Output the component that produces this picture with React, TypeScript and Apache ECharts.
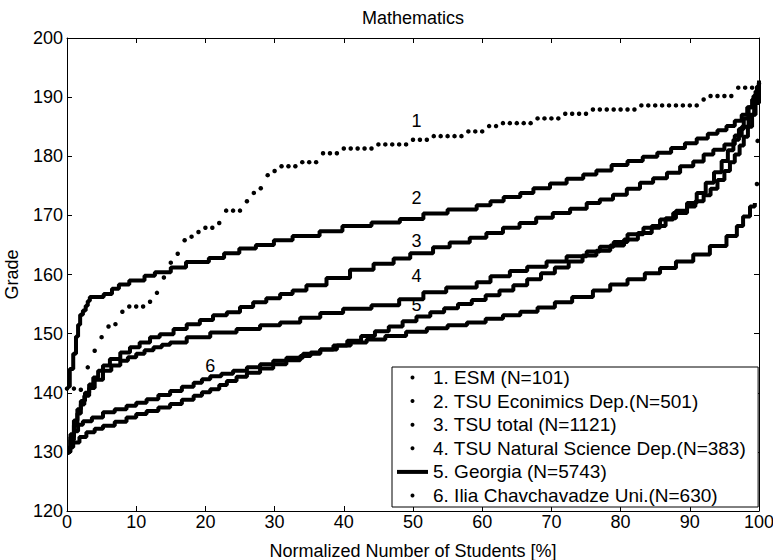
import React, { useEffect, useRef } from "react";
import * as echarts from "echarts";

const FONT = '"Liberation Sans", Arial, Helvetica, sans-serif';

const seriesNames = [
  "1. ESM (N=101)",
  "2. TSU Econimics Dep.(N=501)",
  "3. TSU total (N=1121)",
  "4. TSU Natural Science Dep.(N=383)",
  "5. Georgia (N=5743)",
  "6. Ilia Chavchavadze Uni.(N=630)",
];

const xTicks = [0, 100, 10];
const yTicks = [120, 200, 10];

// Series 1: one grade per student (101 students, evenly spread 0..100 %)
const esmGrades = [
  140.7, 140.7, 140.5, 144.3, 147.1, 149.4, 151.2, 151.6, 153.7, 154.6,
  154.6, 154.6, 155.4, 156.9, 159.5, 162.0, 163.5, 165.8, 166.4, 167.2,
  167.9, 167.9, 168.7, 170.8, 170.8, 170.8, 172.4, 173.8, 174.6, 176.8,
  177.5, 178.3, 178.3, 178.3, 179.0, 179.0, 179.0, 180.5, 180.5, 180.5,
  181.3, 181.3, 181.3, 181.3, 181.3, 182.0, 182.0, 182.0, 182.0, 182.0,
  182.8, 182.8, 182.8, 183.4, 183.4, 183.4, 183.4, 183.4, 184.2, 184.2,
  184.2, 185.1, 185.1, 185.6, 185.6, 185.6, 185.6, 185.6, 186.4, 186.4,
  186.4, 186.4, 187.2, 187.2, 187.2, 187.2, 187.9, 187.9, 187.9, 187.9,
  187.9, 187.9, 187.9, 188.6, 188.6, 188.6, 188.6, 188.6, 188.6, 188.6,
  188.6, 188.6, 189.6, 190.2, 190.2, 190.2, 190.2, 191.6, 191.6, 191.6,
  192.3,
];

// Dense series: [percent where a grade level starts, grade]
const econ = [
  [0, 141.0], [0.4, 144.0], [0.9, 146.6], [1.3, 149.5], [1.6, 151.5], [1.9, 153.2],
  [2.3, 153.9], [2.7, 154.7], [3.0, 155.5], [3.3, 156.2], [5.3, 156.7], [6.5, 157.6],
  [7.5, 158.3], [9.0, 159.0], [11.2, 159.8], [12.7, 160.4], [15.0, 161.2], [17.2, 162.1],
  [20.5, 162.8], [22.7, 163.6], [24.9, 164.4], [27.3, 165.0], [29.9, 165.8], [32.6, 166.5],
  [36.5, 167.3], [39.8, 168.2], [44.0, 168.8], [48.1, 169.4], [51.5, 170.3], [55.0, 171.0],
  [59.2, 171.7], [61.2, 172.4], [63.1, 173.1], [65.5, 173.8], [67.4, 174.6], [69.8, 175.4],
  [72.2, 176.2], [74.6, 176.9], [76.5, 177.6], [78.7, 178.5], [81.0, 179.2], [83.2, 179.9],
  [85.3, 180.6], [87.3, 181.4], [89.3, 182.2], [91.0, 183.0], [92.6, 183.8], [94.0, 184.4],
  [95.3, 185.1], [96.5, 186.0], [97.5, 187.0], [98.3, 188.3], [99.0, 189.6], [99.5, 191.0],
  [100, 192.3],
];

const tsuTotal = [
  [0, 130.5], [0.5, 133.0], [1.0, 135.3], [1.5, 137.2], [2.0, 138.6], [2.6, 140.0],
  [3.2, 141.4], [3.8, 142.6], [4.5, 143.7], [5.2, 144.6], [6.2, 145.7], [7.7, 146.8],
  [9.1, 147.7], [10.5, 148.5], [12.0, 149.4], [13.4, 149.9], [15.4, 150.8], [17.3, 151.6],
  [19.2, 152.3], [21.1, 153.1], [23.1, 153.6], [25.0, 154.5], [26.9, 155.3], [28.8, 156.0],
  [30.8, 156.7], [32.6, 157.3], [34.6, 158.2], [37.5, 159.4], [40.9, 160.8], [44.3, 161.8],
  [47.2, 162.7], [49.6, 163.6], [52.9, 164.6], [55.3, 165.4], [58.2, 166.2], [60.6, 167.0],
  [63.0, 167.9], [65.4, 168.7], [67.8, 169.6], [70.2, 170.4], [72.7, 171.1], [75.1, 172.1],
  [77.0, 172.7], [78.9, 173.5], [80.9, 174.5], [82.8, 175.5], [84.7, 176.3], [86.7, 177.2],
  [88.6, 178.3], [90.5, 179.1], [92.0, 180.3], [93.4, 181.1], [95.0, 182.0], [96.5, 183.5],
  [97.5, 185.0], [98.5, 187.0], [99.3, 189.5], [100, 192.0],
];

const natSci = [
  [0, 130.0], [0.5, 132.5], [1.0, 134.5], [1.5, 136.5], [2.0, 138.0], [2.5, 139.5],
  [3.2, 140.8], [4.0, 142.2], [5.2, 143.7], [6.4, 144.6], [7.7, 145.4], [8.8, 146.0],
  [10.0, 146.6], [11.2, 147.2], [12.5, 147.7], [13.7, 148.1], [14.9, 148.5], [17.3, 149.4],
  [20.7, 150.2], [24.5, 150.8], [27.9, 151.4], [30.8, 151.9], [33.7, 152.7], [36.6, 153.5],
  [39.9, 154.2], [44.0, 154.8], [48.0, 155.8], [51.5, 157.0], [54.8, 157.8], [59.2, 158.7],
  [61.2, 159.7], [64.0, 160.6], [66.5, 161.3], [69.3, 162.2], [72.2, 163.1], [75.1, 163.9],
  [77.0, 164.7], [79.0, 165.5], [81.0, 166.8], [83.3, 167.9], [85.7, 169.3], [87.6, 170.4],
  [89.6, 171.5], [90.8, 172.4], [92.0, 173.4], [93.0, 174.5], [94.0, 176.0], [95.0, 177.5],
  [95.8, 179.0], [96.5, 180.3], [97.2, 181.8], [97.8, 183.3], [98.4, 185.0], [99.0, 187.0],
  [99.5, 189.0], [100, 191.0],
];

const georgia = [
  [0, 129.8], [0.3, 130.8], [0.9, 131.6], [1.8, 132.5], [2.8, 133.3], [4.0, 133.9],
  [5.2, 134.4], [6.9, 135.1], [8.6, 135.8], [10.0, 136.4], [11.5, 136.9], [13.2, 137.5],
  [14.9, 138.1], [16.6, 138.8], [18.3, 139.5], [19.5, 140.1], [20.7, 140.6], [22.0, 141.3],
  [23.1, 142.0], [24.5, 142.7], [26.0, 143.4], [27.9, 144.1], [29.8, 144.8], [31.7, 145.5],
  [33.7, 146.2], [35.2, 146.8], [36.6, 147.3], [38.5, 148.0], [40.5, 148.8], [42.5, 149.6],
  [44.5, 150.4], [46.5, 151.2], [48.5, 152.1], [50.5, 152.9], [52.5, 153.6], [54.5, 154.3],
  [56.5, 155.0], [58.5, 155.7], [60.5, 156.5], [62.5, 157.3], [64.5, 158.2], [66.5, 159.2],
  [68.5, 160.2], [70.5, 161.2], [72.5, 162.2], [74.5, 163.2], [76.5, 164.0], [78.5, 164.9],
  [80.5, 165.9], [82.5, 167.0], [84.5, 168.2], [86.5, 169.5], [88.0, 170.8], [89.6, 172.1],
  [91.0, 173.8], [92.3, 175.5], [93.5, 177.3], [94.6, 179.2], [95.5, 181.0], [96.3, 182.8],
  [97.1, 184.6], [97.8, 186.4], [98.5, 188.3], [99.2, 190.2], [99.7, 191.8], [100, 192.8],
];

const ilia = [
  [0, 130.5], [0.5, 132.0], [1.0, 133.5], [1.6, 134.6], [2.3, 135.2], [3.6, 135.8],
  [5.2, 136.7], [6.9, 137.2], [8.6, 137.8], [10.0, 138.3], [11.5, 138.9], [13.2, 139.6],
  [14.9, 140.3], [16.6, 141.0], [18.3, 141.7], [19.5, 142.3], [20.7, 142.8], [22.3, 143.2],
  [24.0, 143.7], [26.0, 144.3], [27.9, 144.8], [29.8, 145.4], [31.7, 145.9], [34.1, 146.6],
  [36.6, 147.3], [39.0, 148.0], [41.0, 148.5], [43.3, 149.0], [46.0, 149.6], [49.0, 150.3],
  [52.0, 150.9], [55.0, 151.4], [57.8, 151.9], [60.5, 152.5], [63.0, 153.1], [65.5, 153.7],
  [68.0, 154.4], [70.5, 155.3], [73.0, 156.2], [76.0, 157.3], [78.5, 158.3], [81.0, 159.2],
  [83.5, 160.2], [85.7, 161.1], [88.0, 162.2], [90.5, 163.4], [92.9, 164.8], [95.3, 166.5],
  [96.8, 168.2], [97.7, 169.8], [98.7, 171.5], [99.4, 172.1],
];

// stray points plotted at the right edge
const edgeDots = [
  [99.8, 182.6], [99.7, 175.3],
];

// curve number annotations [percent, grade, text]
const curveLabels = [
  [50.5, 185.9, "1"], [50.5, 172.9, "2"], [50.5, 165.6, "3"],
  [50.5, 159.7, "4"], [50.5, 154.8, "5"], [20.7, 144.5, "6"],
];

const legendIcons = ["circle", "circle", "circle", "circle", "rect", "circle"];

function buildOption() {
  const axisCommon = {
    type: "value",
    axisLine: { show: true, onZero: false, lineStyle: { color: "#000", width: 1 } },
    axisTick: { show: true, inside: true, length: 5, lineStyle: { color: "#000", width: 1 } },
    splitLine: { show: false },
  };
  const labelStyle = { color: "#000", fontSize: 18, fontFamily: FONT };
  const denseSets = [econ, tsuTotal, natSci, georgia, ilia];

  const series: any[] = [
    {
      name: seriesNames[0],
      type: "scatter",
      data: esmGrades.map((g, i) => [(i * 100) / (esmGrades.length - 1), g]),
      symbol: "circle",
      symbolSize: 4.5,
      itemStyle: { color: "#000", opacity: 1 },
      xAxisIndex: 0,
      yAxisIndex: 0,
    },
    ...denseSets.map((d, k) => ({
      name: seriesNames[k + 1],
      type: "line",
      step: "end",
      data: d,
      showSymbol: false,
      symbol: "circle",
      color: "#000",
      itemStyle: { color: "#000" },
      lineStyle: { color: "#000", width: 4 },
      xAxisIndex: 0,
      yAxisIndex: 0,
    })),
    {
      name: "edge",
      type: "scatter",
      data: edgeDots,
      symbolSize: 4.5,
      itemStyle: { color: "#000", opacity: 1 },
      xAxisIndex: 0,
      yAxisIndex: 0,
    },
    {
      name: "labels",
      type: "scatter",
      data: curveLabels,
      symbolSize: 2,
      itemStyle: { color: "rgba(255,255,255,0)" },
      silent: true,
      z: 10,
      label: {
        show: true,
        position: "inside",
        formatter: (p: any) => p.data[2],
        color: "#000",
        textBorderWidth: 0,
        opacity: 1,
        fontSize: 18,
        fontFamily: FONT,
      },
      xAxisIndex: 0,
      yAxisIndex: 0,
    },
  ];

  return {
    animation: false,
    backgroundColor: "#fff",
    textStyle: { fontFamily: FONT },
    title: {
      text: "Mathematics",
      left: 413,
      top: 9,
      textAlign: "center",
      padding: 0,
      textStyle: { ...labelStyle, fontWeight: "normal" },
    },
    grid: {
      left: 67,
      right: 14,
      top: 38,
      bottom: 49,
      containLabel: false,
      outerBoundsMode: "none",
    },
    xAxis: [
      {
        ...axisCommon,
        position: "bottom",
        min: xTicks[0],
        max: xTicks[1],
        interval: xTicks[2],
        axisLabel: { ...labelStyle, margin: 2 },
        name: "Normalized Number of Students [%]",
        nameLocation: "middle",
        nameGap: 31,
        nameTextStyle: labelStyle,
      },
      {
        ...axisCommon,
        position: "top",
        min: xTicks[0],
        max: xTicks[1],
        interval: xTicks[2],
        axisLabel: { show: false },
      },
    ],
    yAxis: [
      {
        ...axisCommon,
        position: "left",
        min: yTicks[0],
        max: yTicks[1],
        interval: yTicks[2],
        axisLabel: { ...labelStyle, margin: 4 },
        name: "Grade",
        nameLocation: "middle",
        nameGap: 46,
        nameTextStyle: labelStyle,
      },
      {
        ...axisCommon,
        position: "right",
        min: yTicks[0],
        max: yTicks[1],
        interval: yTicks[2],
        axisLabel: { show: false },
      },
    ],
    legend: {
      orient: "vertical",
      left: 392,
      top: 367,
      padding: [1, 12, 2, 5],
      itemGap: 4.6,
      itemWidth: 31,
      itemHeight: 4,
      backgroundColor: "#fff",
      borderColor: "#000",
      borderWidth: 1,
      borderRadius: 0,
      selectedMode: false,
      textStyle: { color: "#000", fontSize: 19, fontFamily: FONT },
      data: seriesNames.map((n, i) => ({ name: n, icon: legendIcons[i] })),
    },
    series,
  };
}

export default function App() {
  const ref = useRef<HTMLDivElement>(null);
  useEffect(() => {
    document.body.style.margin = "0";
    const chart = echarts.init(ref.current!, null, { renderer: "svg" });
    chart.setOption(buildOption() as any);
    return () => chart.dispose();
  }, []);
  return <div ref={ref} style={{ width: 773, height: 560 }} />;
}
